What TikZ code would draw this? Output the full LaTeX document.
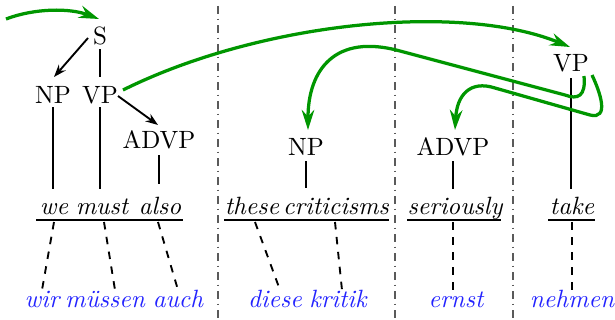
\documentclass[tikz,border=0pt]{standalone}
\usetikzlibrary{arrows.meta}
\definecolor{mvgreen}{RGB}{0,150,0}
\definecolor{glblue}{RGB}{35,35,255}
\definecolor{divgray}{RGB}{90,90,90}
\begin{document}
\begin{tikzpicture}[x=0.4pt,y=-0.4pt,
  cat/.style={inner sep=0pt,minimum height=0pt},
  src/.style={anchor=base,inner sep=0pt,font=\itshape},
  tgt/.style={anchor=base,inner sep=0pt,font=\itshape,text=glblue},
  edge/.style={line width=0.75pt},
  arr/.style={line width=0.75pt,-{Stealth[length=5pt,width=3.6pt]}},
  ul/.style={line width=0.75pt},
  align/.style={line width=0.75pt,dashed},
  divider/.style={divgray,line width=0.6pt,dash dot},
  move/.style={mvgreen,line width=1.3pt,-{Stealth[length=8pt,width=5pt]}}]
\useasboundingbox (0,0) rectangle (615,320);
% dividers
\coordinate (d1t) at (218,6); \coordinate (d1b) at (218,320);
\coordinate (d2t) at (395,6); \coordinate (d2b) at (395,320);
\coordinate (d3t) at (513,6); \coordinate (d3b) at (513,320);
\draw[divider] (d1t) -- (d1b);
\draw[divider] (d2t) -- (d2b);
\draw[divider] (d3t) -- (d3b);
% tree nodes
\node[cat] (S) at (100,36) {S};
\node[cat] (NP1) at (53,95) {NP};
\node[cat] (VP1) at (100,95) {VP};
\node[cat] (ADVP1) at (159,140) {ADVP};
\node[cat] (NP2) at (306,147) {NP};
\node[cat] (ADVP2) at (453,147) {ADVP};
\node[cat] (VP2) at (571,63) {VP};
% source words
\node[src] (we) at (54,215) {we};
\node[src] (must) at (102,215) {must};
\node[src] (also) at (160,215) {also};
\node[src] (these) at (252,215) {these};
\node[src] (crit) at (336,215) {criticisms};
\node[src] (ser) at (455,215) {seriously};
\node[src] (take) at (572,215) {take};
% target words
\node[tgt] (wir) at (42,307) {wir};
\node[tgt] (muessen) at (105,307) {müssen};
\node[tgt] (auch) at (178,307) {auch};
\node[tgt] (diese) at (275,307) {diese};
\node[tgt] (kritik) at (338,307) {kritik};
\node[tgt] (ernst) at (456,307) {ernst};
\node[tgt] (nehmen) at (572,307) {nehmen};
% underlines
\coordinate (u1a) at (36,220); \coordinate (u1b) at (183,220);
\coordinate (u2a) at (224,220); \coordinate (u2b) at (389,220);
\coordinate (u3a) at (407,220); \coordinate (u3b) at (501,220);
\coordinate (u4a) at (548,220); \coordinate (u4b) at (595,220);
\draw[ul] (u1a) -- (u1b);
\draw[ul] (u2a) -- (u2b);
\draw[ul] (u3a) -- (u3b);
\draw[ul] (u4a) -- (u4b);
% tree edges
\draw[arr] ([shift={(-12,2)}]S.center) -- ([shift={(1,-18)}]NP1.center);
\draw[edge] ([shift={(0,13)}]S.center) -- ([shift={(0,-18)}]VP1.center);
\draw[arr] ([shift={(18,1)}]VP1.center) -- ([shift={(-1,-15)}]ADVP1.center);
\draw[edge] ([shift={(0,12)}]NP1.center) -- ([shift={(0,-26)}]NP1.center |- we.base);
\draw[edge] ([shift={(0,12)}]VP1.center) -- ([shift={(0,-26)}]VP1.center |- must.base);
\draw[edge] ([shift={(0,15)}]ADVP1.center) -- ([shift={(0,-31)}]ADVP1.center |- also.base);
\draw[edge] ([shift={(0,14)}]NP2.center) -- ([shift={(0,-27)}]NP2.center |- crit.base);
\draw[edge] ([shift={(0,14)}]ADVP2.center) -- ([shift={(0,-26)}]ADVP2.center |- ser.base);
\draw[edge] ([shift={(0,15)}]VP2.center) -- ([shift={(0,-26)}]VP2.center |- take.base);
% alignment links
\draw[align] ([shift={(0,7)}]we.base) -- ([shift={(0,-17)}]wir.base);
\draw[align] ([shift={(2,7)}]must.base) -- ([shift={(10,-17)}]muessen.base);
\draw[align] ([shift={(-2,7)}]also.base) -- ([shift={(0,-17)}]auch.base);
\draw[align] ([shift={(3,7)}]these.base) -- ([shift={(5,-17)}]diese.base);
\draw[align] ([shift={(-1,7)}]crit.base) -- ([shift={(4,-17)}]kritik.base);
\draw[align] ([shift={(-2,7)}]ser.base) -- ([shift={(-3,-17)}]ernst.base);
\draw[align] ([shift={(0,7)}]take.base) -- ([shift={(0,-17)}]nehmen.base);
% movement arrows
\coordinate (in) at (6,19);
\draw[move] (in) .. controls (35,8) and (70,8) .. ([shift={(-1,-17)}]S.center);
\draw[move] ([shift={(23,-5)}]VP1.center) .. controls (260,22) and (460,2) .. ([shift={(-1,-16)}]VP2.center);
\draw[move] ([shift={(13,13)}]VP2.center) .. controls (586,96) and (578,100) .. (565,95)
   -- (400,51) .. controls (335,33) and (308,70) .. ([shift={(2,-17)}]NP2.center);
\draw[move] ([shift={(21,12)}]VP2.center) .. controls (600,92) and (610,120) .. (590,115)
   -- (495,88) .. controls (470,80) and (457,95) .. ([shift={(2,-17)}]ADVP2.center);
\end{tikzpicture}
\end{document}
